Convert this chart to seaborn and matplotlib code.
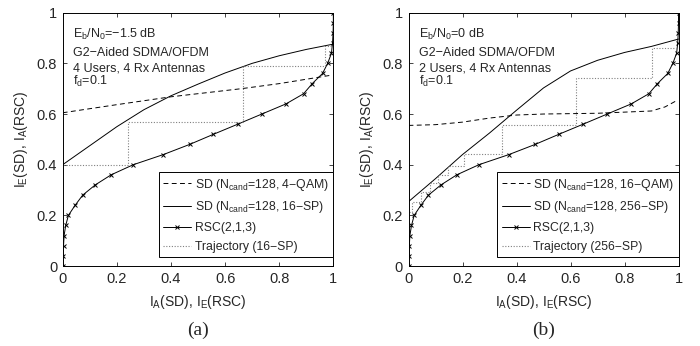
import numpy as np
import pandas as pd
import seaborn as sns
import matplotlib
matplotlib.use("Agg")
import matplotlib.pyplot as plt

# RSC(2,1,3) EXIT curve (same in both panels): x = I_E(RSC), y = I_A(RSC)
rsc_ia = [0.0, 0.04, 0.08, 0.12, 0.16, 0.20, 0.24, 0.28, 0.32, 0.36, 0.40, 0.44, 0.48,
          0.52, 0.56, 0.60, 0.64, 0.68, 0.72, 0.76, 0.80, 0.84, 0.88, 0.92, 0.96, 1.0]
rsc_ie = [0.0, 0.002, 0.003, 0.005, 0.011, 0.021, 0.046, 0.074, 0.12, 0.179, 0.261, 0.372, 0.469,
          0.557, 0.647, 0.736, 0.825, 0.89, 0.922, 0.96, 0.979, 0.993, 0.997, 0.999, 1.0, 1.0]

# panel (a)
qam4_x = [0.0, 0.2, 0.4, 0.66, 0.8, 0.985]
qam4_y = [0.605, 0.637, 0.668, 0.70, 0.72, 0.752]
sp16_x = [0.0, 0.1, 0.2, 0.3, 0.4, 0.5, 0.6, 0.7, 0.8, 0.9, 1.0]
sp16_y = [0.40, 0.475, 0.55, 0.617, 0.672, 0.718, 0.762, 0.80, 0.83, 0.855, 0.876]
traj_a_x = [0.0, 0.243, 0.243, 0.668, 0.668, 0.968, 0.968, 0.995]
traj_a_y = [0.40, 0.40, 0.567, 0.567, 0.788, 0.788, 0.867, 0.867]

# panel (b)
qam16_x = [0.0, 0.1, 0.2, 0.3, 0.4, 0.5, 0.7, 0.9, 0.95, 0.988]
qam16_y = [0.555, 0.558, 0.568, 0.584, 0.596, 0.600, 0.603, 0.612, 0.628, 0.65]
sp256_x = [0.0, 0.1, 0.2, 0.3, 0.35, 0.4, 0.5, 0.6, 0.7, 0.8, 0.9, 1.0]
sp256_y = [0.254, 0.345, 0.44, 0.525, 0.57, 0.615, 0.703, 0.77, 0.812, 0.843, 0.867, 0.896]
traj_b_x = [0.0, 0.012, 0.012, 0.047, 0.047, 0.078, 0.078, 0.109, 0.109, 0.146, 0.146,
            0.207, 0.207, 0.348, 0.348, 0.621, 0.621, 0.901, 0.901, 0.99]
traj_b_y = [0.215, 0.215, 0.254, 0.254, 0.294, 0.294, 0.327, 0.327, 0.36, 0.36, 0.395,
            0.395, 0.441, 0.441, 0.555, 0.555, 0.742, 0.742, 0.86, 0.86]

ticks = [0, 0.2, 0.4, 0.6, 0.8, 1]
tick_labels = ["0", "0.2", "0.4", "0.6", "0.8", "1"]

sns.set_style("ticks")
plt.rcParams["font.family"] = ["Liberation Sans", "DejaVu Sans"]
plt.rcParams["mathtext.fontset"] = "custom"
plt.rcParams["mathtext.rm"] = "Liberation Sans"
plt.rcParams["mathtext.it"] = "Liberation Sans:italic"
plt.rcParams["xtick.direction"] = "in"
plt.rcParams["ytick.direction"] = "in"
plt.rcParams["axes.unicode_minus"] = True

fig = plt.figure(figsize=(7.0, 3.46), dpi=100)
ax_a = fig.add_axes([0.0896, 0.2312, 0.3866, 0.7321])
ax_b = fig.add_axes([0.5836, 0.2312, 0.3857, 0.7321])

panels = [
    (ax_a, qam4_x, qam4_y, "SD (N$_\\mathrm{cand}$=128, 4\u2212QAM)",
     sp16_x, sp16_y, "SD (N$_\\mathrm{cand}$=128, 16\u2212SP)",
     traj_a_x, traj_a_y, "Trajectory (16\u2212SP)",
     ["E$_\\mathrm{b}$/N$_\\mathrm{0}$=\u22121.5 dB", "G2\u2212Aided SDMA/OFDM",
      "4 Users, 4 Rx Antennas", "f$_\\mathrm{d}$=0.1"], "(a)"),
    (ax_b, qam16_x, qam16_y, "SD (N$_\\mathrm{cand}$=128, 16\u2212QAM)",
     sp256_x, sp256_y, "SD (N$_\\mathrm{cand}$=128, 256\u2212SP)",
     traj_b_x, traj_b_y, "Trajectory (256\u2212SP)",
     ["E$_\\mathrm{b}$/N$_\\mathrm{0}$=0 dB", "G2\u2212Aided SDMA/OFDM",
      "2 Users, 4 Rx Antennas", "f$_\\mathrm{d}$=0.1"], "(b)"),
]

for ax, qx, qy, qlab, sx, sy, slab, tx, ty, tlab, notes, cap in panels:
    sns.lineplot(x=qx, y=qy, ax=ax, sort=False, estimator=None, color="black",
                 lw=0.7, linestyle=(0, (5, 3.5)), label=qlab)
    sns.lineplot(x=sx, y=sy, ax=ax, sort=False, estimator=None, color="black",
                 lw=0.7, label=slab)
    sns.lineplot(x=rsc_ie, y=rsc_ia, ax=ax, sort=False, estimator=None, color="black",
                 lw=0.7, marker="x", markersize=3.5, markeredgewidth=0.7,
                 markeredgecolor="black", label="RSC(2,1,3)")
    sns.lineplot(x=tx, y=ty, ax=ax, sort=False, estimator=None, color="0.5",
                 lw=0.8, linestyle=(0, (1, 1.5)), label=tlab)

    ax.set_xlim(0, 1)
    ax.set_ylim(0, 1)
    ax.set_xticks(ticks)
    ax.set_xticklabels(tick_labels)
    ax.set_yticks(ticks)
    ax.set_yticklabels(tick_labels)
    ax.tick_params(top=True, right=True, labelsize=10.5, length=3, width=0.6, pad=4)
    for sp in ax.spines.values():
        sp.set_linewidth(0.7)
        sp.set_color("black")
    ax.set_xlabel("I$_\\mathrm{A}$(SD), I$_\\mathrm{E}$(RSC)", fontsize=10, labelpad=5)
    ax.set_ylabel("I$_\\mathrm{E}$(SD), I$_\\mathrm{A}$(RSC)", fontsize=10, labelpad=5)

    for txt, yb in zip(notes, [0.90, 0.828, 0.766, 0.714]):
        ax.text(0.038, yb, txt, fontsize=9, va="baseline", ha="left")

    leg = ax.legend(loc="lower right", bbox_to_anchor=(1.0, 0.035), borderaxespad=0,
                    fontsize=8.8, frameon=True, fancybox=False, handlelength=2.3,
                    handletextpad=0.3, labelspacing=0.55, borderpad=0.35)
    leg.get_frame().set_edgecolor("black")
    leg.get_frame().set_linewidth(0.7)
    leg.get_frame().set_alpha(1)

    pos = ax.get_position()
    fig.text(pos.x0 + pos.width / 2, 0.045, cap, family=["Liberation Serif", "DejaVu Serif"],
             fontsize=14, ha="center", va="center")

fig.savefig("out.png", dpi=100)
